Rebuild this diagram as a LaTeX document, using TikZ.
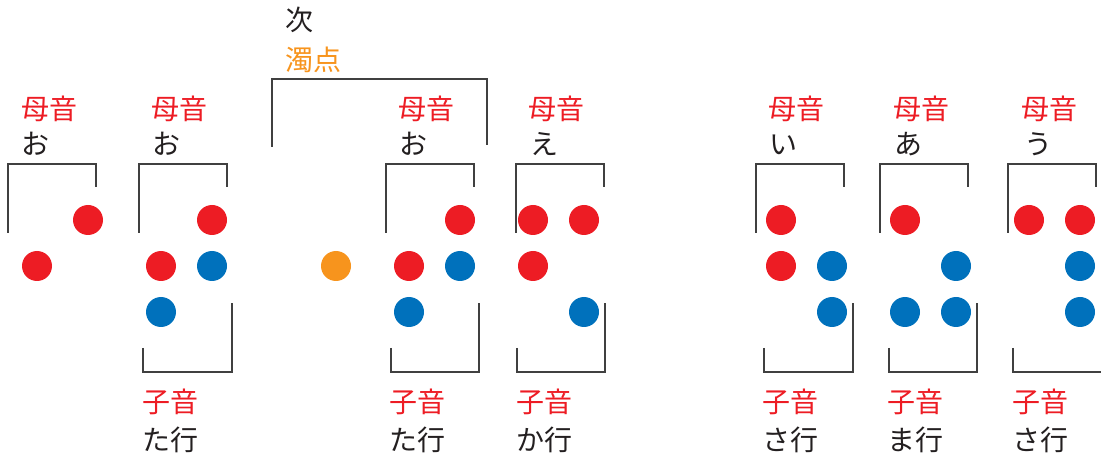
\documentclass[tikz,border=0pt]{standalone}
\usepackage{fontspec}
\setmainfont{Noto Sans CJK JP}
\definecolor{bred}{HTML}{ED1C24}
\definecolor{bblue}{HTML}{0071BC}
\definecolor{borange}{HTML}{F7941D}
\definecolor{btext}{HTML}{231F20}
\definecolor{bline}{HTML}{404040}
\begin{document}
\begin{tikzpicture}[x=1pt,y=-1pt,
  dotbase/.style={circle,minimum size=30pt,inner sep=0pt,draw=none},
  rdot/.style={dotbase,fill=bred},
  bdot/.style={dotbase,fill=bblue},
  odot/.style={dotbase,fill=borange},
  lab/.style={anchor=base west,inner sep=0pt,font=\fontsize{28pt}{30pt}\selectfont},
  redlab/.style={lab,text=bred},
  blklab/.style={lab,text=btext},
  orglab/.style={lab,text=borange},
  brk/.style={draw=bline,line width=1.4pt}]
\useasboundingbox (0,0) rectangle (1101,454);
% cell 1
\node[redlab] (m1) at (21,120) {母音};
\node[blklab] (v1) at (21,155) {お};
\draw[brk] (8,233) -- (8,164) -- (96,164) -- (96,187);
\node[rdot] (d1a) at (88,220) {};
\node[rdot] (d1b) at (37,266) {};
% cell 2
\node[redlab] (m2) at (151,120) {母音};
\node[blklab] (v2) at (152,155) {お};
\draw[brk] (139,233) -- (139,164) -- (227,164) -- (227,187);
\node[rdot] (d2a) at (212,220) {};
\node[rdot] (d2b) at (161,266) {};
\node[bdot] (d2c) at (212,266) {};
\node[bdot] (d2d) at (161,312) {};
\draw[brk] (143,348) -- (143,372) -- (232,372) -- (232,303);
\node[redlab] (s2) at (142,413) {子音};
\node[blklab] (r2) at (142,450) {た行};
% cell 3 (dakuten)
\node[blklab] (n3) at (285,31) {次};
\node[orglab] (k3) at (285,71) {濁点};
\draw[brk] (272,147) -- (272,79) -- (487,79) -- (487,145);
\node[odot] (d3a) at (336,266) {};
% cell 4
\node[redlab] (m4) at (398,120) {母音};
\node[blklab] (v4) at (399,155) {お};
\draw[brk] (386,233) -- (386,164) -- (474,164) -- (474,187);
\node[rdot] (d4a) at (460,220) {};
\node[rdot] (d4b) at (409,266) {};
\node[bdot] (d4c) at (460,266) {};
\node[bdot] (d4d) at (409,312) {};
\draw[brk] (391,348) -- (391,372) -- (479,372) -- (479,303);
\node[redlab] (s4) at (389,413) {子音};
\node[blklab] (r4) at (389,450) {た行};
% cell 5
\node[redlab] (m5) at (528,120) {母音};
\node[blklab] (v5) at (530,155) {え};
\draw[brk] (516,233) -- (516,164) -- (604,164) -- (604,187);
\node[rdot] (d5a) at (533,220) {};
\node[rdot] (d5b) at (584,220) {};
\node[rdot] (d5c) at (533,266) {};
\node[bdot] (d5d) at (584,312) {};
\draw[brk] (517,348) -- (517,372) -- (605,372) -- (605,303);
\node[redlab] (s5) at (516,413) {子音};
\node[blklab] (r5) at (516,450) {か行};
% cell 6
\node[redlab] (m6) at (768,120) {母音};
\node[blklab] (v6) at (769,155) {い};
\draw[brk] (756,233) -- (756,164) -- (844,164) -- (844,187);
\node[rdot] (d6a) at (781,220) {};
\node[rdot] (d6b) at (781,266) {};
\node[bdot] (d6c) at (832,266) {};
\node[bdot] (d6d) at (832,312) {};
\draw[brk] (764,348) -- (764,372) -- (853,372) -- (853,303);
\node[redlab] (s6) at (762,413) {子音};
\node[blklab] (r6) at (762,450) {さ行};
% cell 7
\node[redlab] (m7) at (893,120) {母音};
\node[blklab] (v7) at (894,155) {あ};
\draw[brk] (880,233) -- (880,164) -- (968,164) -- (968,187);
\node[rdot] (d7a) at (905,220) {};
\node[bdot] (d7b) at (956,266) {};
\node[bdot] (d7c) at (905,312) {};
\node[bdot] (d7d) at (956,312) {};
\draw[brk] (889,348) -- (889,372) -- (977,372) -- (977,303);
\node[redlab] (s7) at (887,413) {子音};
\node[blklab] (r7) at (887,450) {ま行};
% cell 8
\node[redlab] (m8) at (1021,120) {母音};
\node[blklab] (v8) at (1024,155) {う};
\draw[brk] (1008,233) -- (1008,164) -- (1096,164) -- (1096,187);
\node[rdot] (d8a) at (1029,220) {};
\node[rdot] (d8b) at (1080,220) {};
\node[bdot] (d8c) at (1080,266) {};
\node[bdot] (d8d) at (1080,312) {};
\draw[brk] (1013,348) -- (1013,372) -- (1101,372);
\node[redlab] (s8) at (1012,413) {子音};
\node[blklab] (r8) at (1012,450) {さ行};
\end{tikzpicture}
\end{document}
